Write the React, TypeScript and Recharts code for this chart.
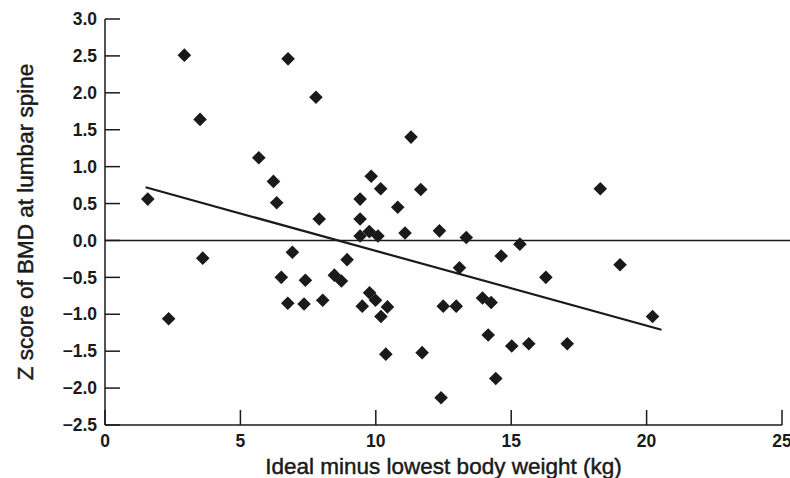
import React from "react";
import {
  ScatterChart,
  Scatter,
  XAxis,
  YAxis,
  ReferenceLine,
} from "recharts";

// ideal minus lowest body weight (kg)
const weightDiff = [
  1.58, 2.35, 2.93, 3.51, 3.61, 5.68, 6.22, 6.34, 6.51, 6.75,
  6.76, 6.92, 7.35, 7.4, 7.79, 7.91, 8.04, 8.47, 8.73, 8.94,
  9.42, 9.42, 9.42, 9.76, 10.08, 9.83, 10.18, 10.81, 11.08, 11.3,
  11.66, 12.35, 13.34, 15.32, 18.29, 14.63, 13.09, 19.02, 16.28, 9.5,
  9.77, 9.99, 10.43, 10.19, 12.49, 12.97, 13.94, 14.26, 14.15, 20.22,
  15.02, 15.65, 17.07, 10.37, 11.71, 14.43, 12.41,
];

// Z score of BMD at lumbar spine
const zScore = [
  0.56, -1.06, 2.51, 1.64, -0.24, 1.12, 0.8, 0.51, -0.5, -0.85,
  2.46, -0.16, -0.86, -0.54, 1.94, 0.29, -0.81, -0.47, -0.55, -0.26,
  0.56, 0.29, 0.06, 0.12, 0.06, 0.87, 0.7, 0.45, 0.1, 1.4,
  0.69, 0.13, 0.04, -0.05, 0.7, -0.21, -0.37, -0.33, -0.5, -0.89,
  -0.71, -0.81, -0.9, -1.03, -0.89, -0.89, -0.78, -0.84, -1.28, -1.03,
  -1.43, -1.4, -1.4, -1.54, -1.52, -1.87, -2.13,
];

// fitted regression line end points
const fitX = [1.5, 20.55];
const fitY = [0.72, -1.21];

const xTicks = [0, 5, 10, 15, 20, 25];
const yTicks = [-2.5, -2, -1.5, -1, -0.5, 0, 0.5, 1, 1.5, 2, 2.5, 3];

const points = weightDiff.map((x, i) => ({ x, y: zScore[i] }));

const FONT = '"Liberation Sans", Arial, Helvetica, sans-serif';
const INK = "#1a1a1a";

const Diamond = (props: any) => {
  const { cx, cy } = props;
  const r = 6.8;
  return (
    <path
      d={`M${cx},${cy - r}L${cx + r},${cy}L${cx},${cy + r}L${cx - r},${cy}Z`}
      fill={INK}
    />
  );
};

const fmtY = (v: number) => v.toFixed(1).replace("-", "\u2212");

export default function App() {
  const tickStyle = { fontSize: 17.5, fontWeight: 700, fill: INK, fontFamily: FONT };
  const titleStyle = {
    fontSize: 22.5,
    fill: INK,
    stroke: INK,
    strokeWidth: 0.45,
    fontFamily: FONT,
  };
  return (
    <div style={{ position: "absolute", left: 0, top: 0, background: "#fff" }}>
      <ScatterChart
        width={790}
        height={478}
        margin={{ top: 19, right: 8, bottom: 0, left: 0 }}
      >
        <XAxis
          type="number"
          dataKey="x"
          domain={[0, 25]}
          ticks={xTicks}
          interval={0}
          height={53}
          tickSize={-15}
          tickMargin={25}
          tick={tickStyle}
          axisLine={{ stroke: INK, strokeWidth: 1.5 }}
          tickLine={{ stroke: INK, strokeWidth: 1.5 }}
          label={{
            value: "Ideal minus lowest body weight (kg)",
            position: "insideBottom",
            offset: 4,
            fill: INK,
            style: titleStyle,
          }}
        />
        <YAxis
          type="number"
          dataKey="y"
          domain={[-2.5, 3]}
          ticks={yTicks}
          interval={0}
          width={105}
          tickSize={-15}
          tickMargin={23}
          tickFormatter={fmtY}
          tick={tickStyle}
          axisLine={{ stroke: INK, strokeWidth: 1.5 }}
          tickLine={{ stroke: INK, strokeWidth: 1.5 }}
          label={{
            value: "Z score of BMD at lumbar spine",
            angle: -90,
            position: "insideLeft",
            offset: 25,
            fill: INK,
            style: { ...titleStyle, textAnchor: "middle" },
          }}
        />
        <ReferenceLine
          segment={[
            { x: 0, y: 0 },
            { x: 25.3, y: 0 },
          ]}
          ifOverflow="visible"
          stroke={INK}
          strokeWidth={1.5}
        />
        <ReferenceLine
          segment={[
            { x: fitX[0], y: fitY[0] },
            { x: fitX[1], y: fitY[1] },
          ]}
          stroke={INK}
          strokeWidth={2.2}
        />
        <Scatter data={points} shape={Diamond} isAnimationActive={false} />
      </ScatterChart>
    </div>
  );
}
